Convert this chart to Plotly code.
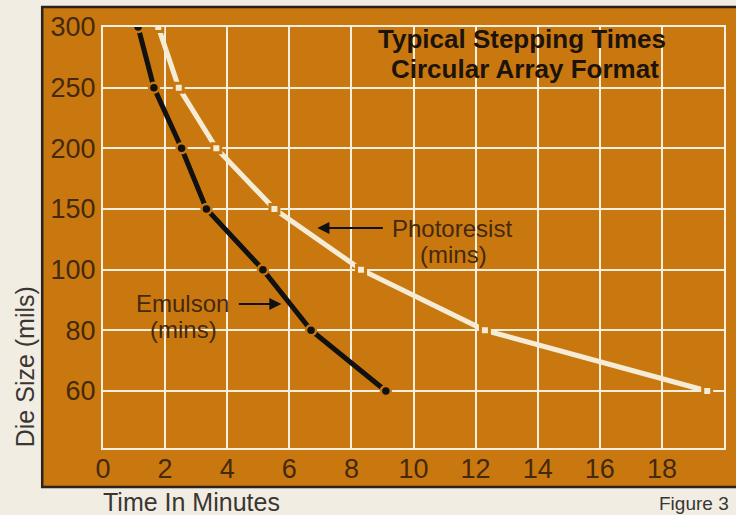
import plotly.graph_objects as go

# ---- data ----
die_sizes = ["60", "80", "100", "150", "200", "250", "300"]          # y categories (bottom->top)
emulsion_sizes = ["300", "250", "200", "150", "100", "80", "60"]
emulsion_times = [1.13, 1.64, 2.53, 3.33, 5.15, 6.70, 9.11]
photoresist_sizes = ["300", "250", "200", "150", "100", "80", "60"]
photoresist_times = [1.78, 2.44, 3.65, 5.52, 8.31, 12.30, 19.46]
x_ticks = [0, 2, 4, 6, 8, 10, 12, 14, 16, 18]

ORANGE = "#c9780f"
CREAM = "#f2ede2"
GRID = "#f6efe0"
LINECREAM = "#f5ecd6"
TXT = "#45290c"
DARK = "#1c140c"

W, H = 736, 515
L, R, T, B = 103, 10, 27, 67
PW, PH = W - L - R, H - T - B


def px(x):
    return (x - L) / PW


def py(y):
    return (H - B - y) / PH


fig = go.Figure()

fig.add_trace(go.Scatter(
    x=emulsion_times, y=emulsion_sizes, mode="lines+markers",
    line=dict(color="#111111", width=5),
    marker=dict(symbol="circle", size=10, color="#111111",
                line=dict(color=ORANGE, width=2.5)),
    showlegend=False, hoverinfo="skip"))

fig.add_trace(go.Scatter(
    x=photoresist_times, y=photoresist_sizes, mode="lines+markers",
    line=dict(color=LINECREAM, width=5),
    marker=dict(symbol="square", size=9, color=LINECREAM,
                line=dict(color=ORANGE, width=3)),
    showlegend=False, hoverinfo="skip"))

fig.update_xaxes(
    range=[0, 20], tickvals=x_ticks, ticktext=[str(v) for v in x_ticks],
    showgrid=True, gridcolor=GRID, gridwidth=2,
    showline=True, linecolor=GRID, linewidth=2, mirror=True,
    zeroline=False, ticks="", ticklen=0, ticklabelstandoff=-4,
    tickfont=dict(family="Liberation Sans", size=27, color=TXT))

fig.update_yaxes(
    type="category", categoryarray=die_sizes, categoryorder="array",
    range=[-0.94, 6],
    showgrid=True, gridcolor=GRID, gridwidth=2,
    showline=True, linecolor=GRID, linewidth=2, mirror=True,
    zeroline=False, ticks="", ticklen=0,
    tickfont=dict(family="Liberation Sans", size=27, color=TXT))

# orange panel with dark border
fig.add_shape(type="rect", xref="paper", yref="paper",
              x0=px(42), x1=px(742), y0=py(487), y1=py(7),
              fillcolor=ORANGE, line=dict(color="#2a221c", width=2.5),
              layer="below")


def label(text, x, y, size, color, xanchor="center", bold=False, angle=0):
    fig.add_annotation(
        text=f"<b>{text}</b>" if bold else text,
        xref="paper", yref="paper", x=px(x), y=py(y),
        xanchor=xanchor, yanchor="middle", showarrow=False, textangle=angle,
        font=dict(family="Liberation Sans", size=size, color=color))


# title
label("Typical Stepping Times", 523, 39, 26, DARK, bold=True)
label("Circular Array Format", 526, 69, 26, DARK, bold=True)

# series labels
label("Photoresist", 453, 228, 24, TXT)
label("(mins)", 455, 254, 24, TXT)
label("Emulson", 183, 303, 24, TXT)
label("(mins)", 184, 329, 24, TXT)

# arrows
for head, tail in [((318, 228), (385, 228)), ((282, 304), (238, 304))]:
    fig.add_annotation(
        xref="paper", yref="paper", x=px(head[0]), y=py(head[1]),
        ax=tail[0] - head[0], ay=tail[1] - head[1], axref="pixel", ayref="pixel",
        text="", showarrow=True, arrowhead=2, arrowsize=1.1, arrowwidth=2.2,
        arrowcolor="#111111")

# axis titles and figure label
label("Die Size (mils)", 25, 367, 25, "#3a3632", angle=-90)
label("Time In Minutes", 192, 502, 25, "#3a3632")
label("Figure 3", 733, 503, 19, "#3a3632", xanchor="right")

fig.update_layout(
    width=W, height=H,
    margin=dict(l=L, r=R, t=T, b=B),
    paper_bgcolor=CREAM, plot_bgcolor=ORANGE,
    showlegend=False)

fig.write_html(
    "out.html",
    config={"displayModeBar": False},
    post_script="document.body.style.margin='0';document.body.style.overflow='hidden';")
